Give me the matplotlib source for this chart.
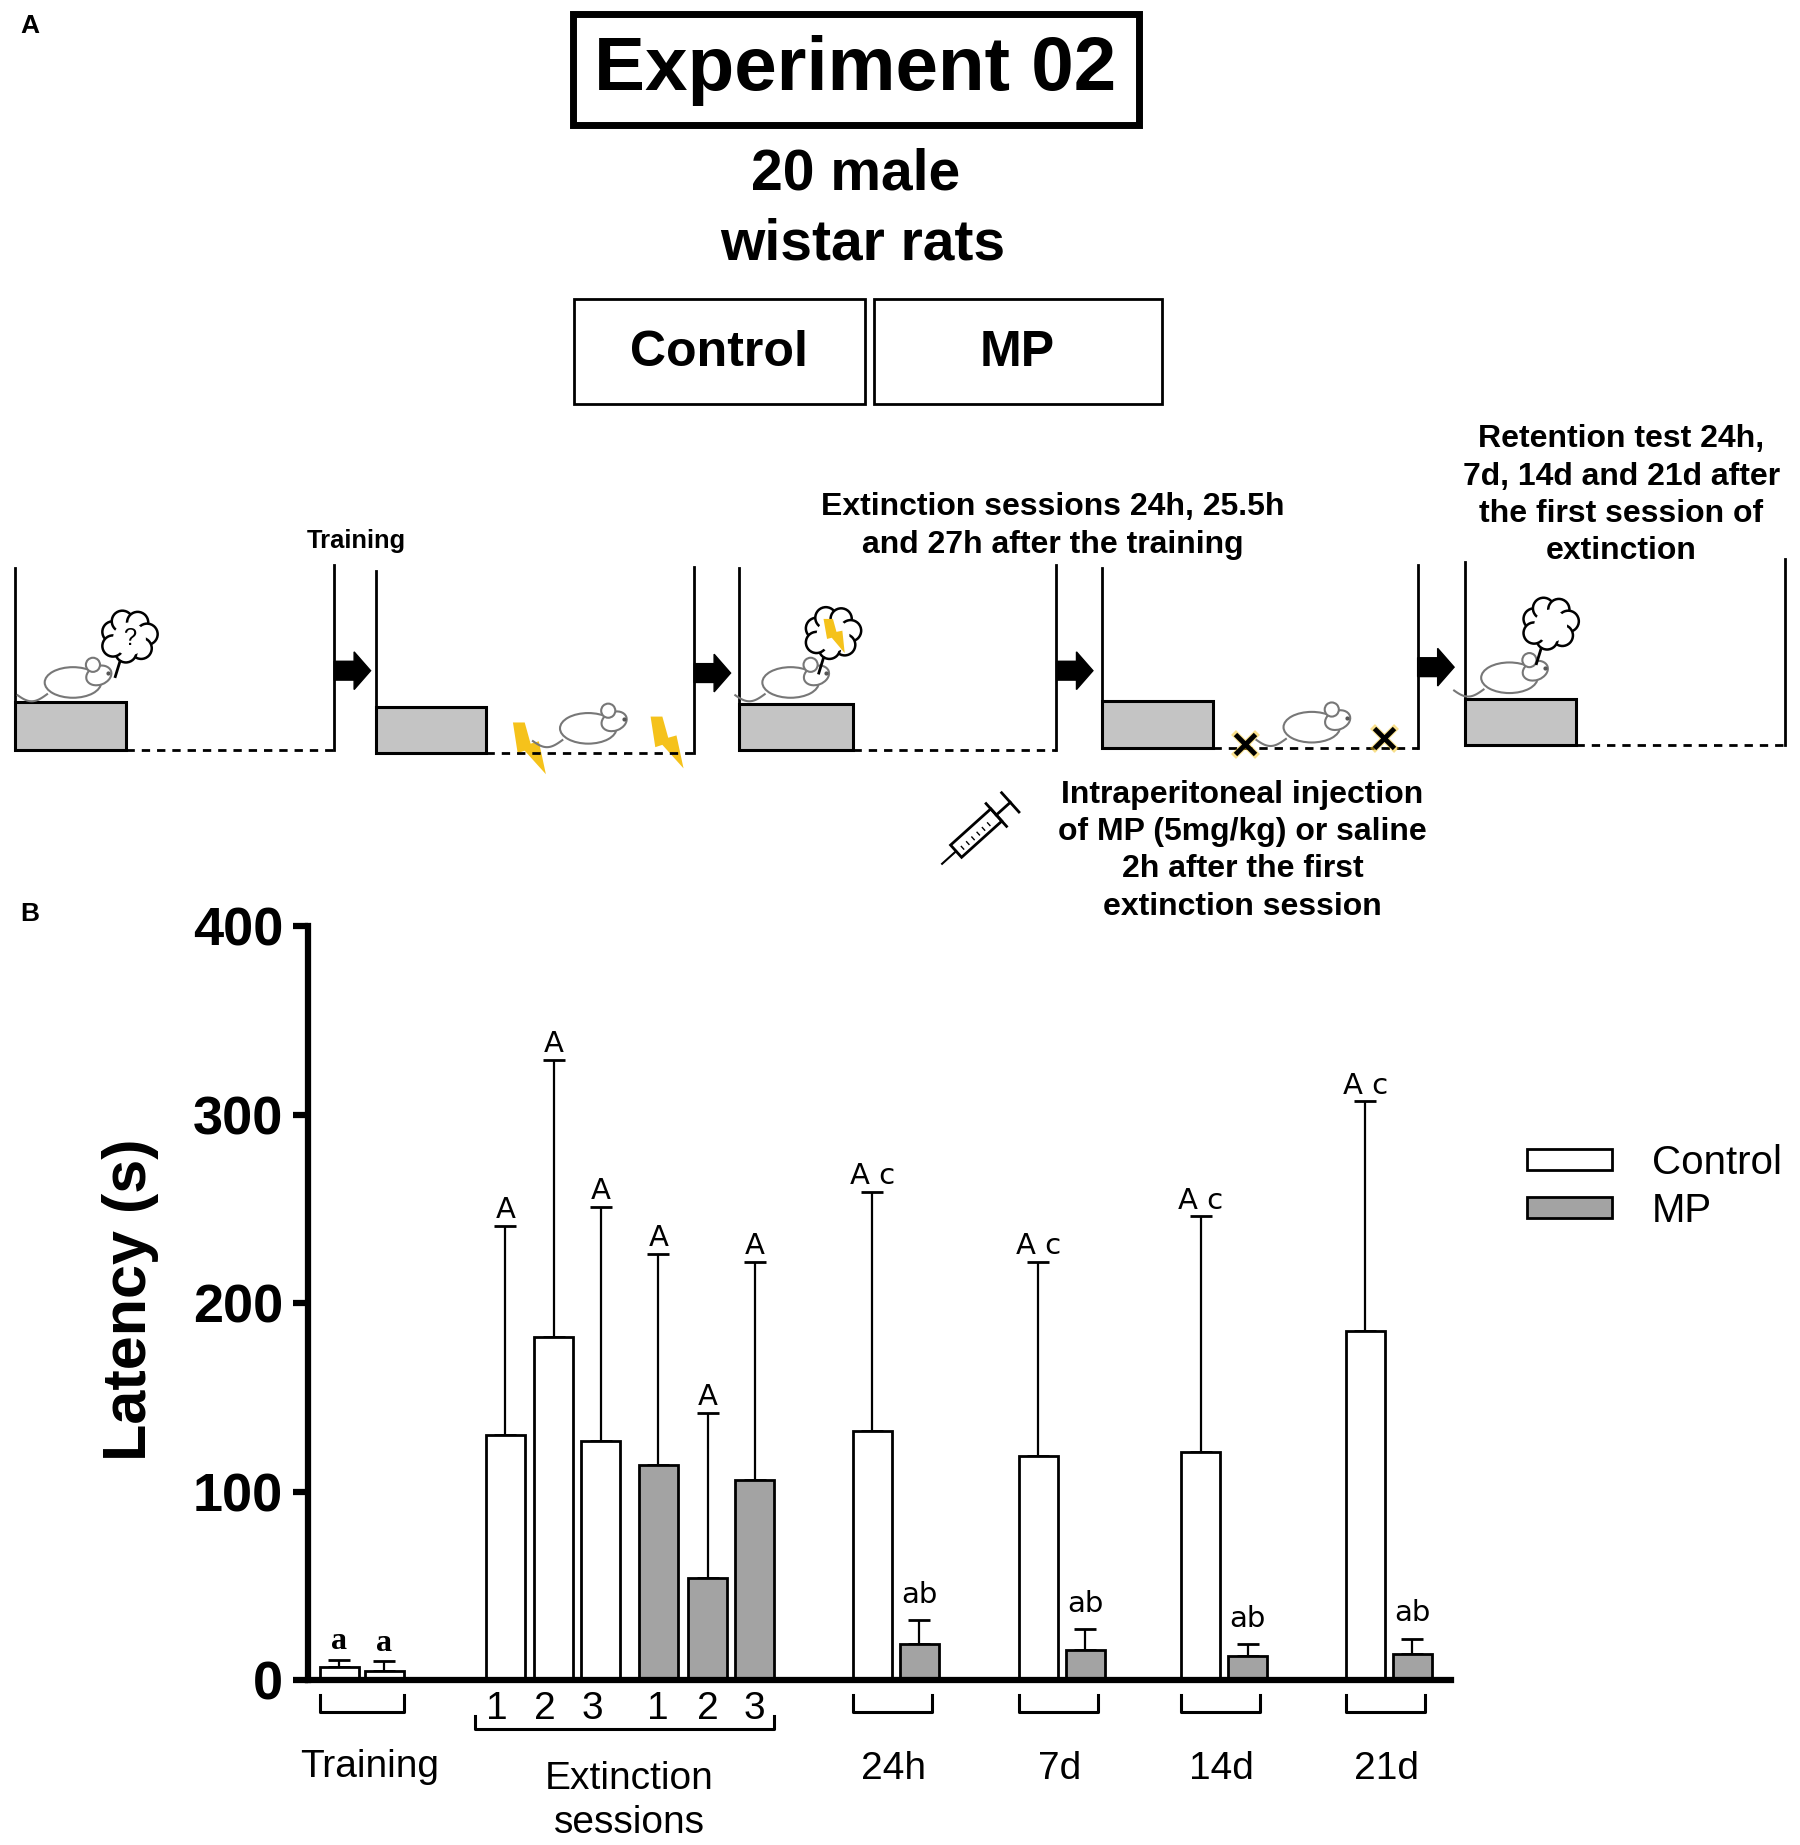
import numpy as np
import matplotlib
matplotlib.use("Agg")
import matplotlib.pyplot as plt
from matplotlib import font_manager
from matplotlib.patches import Rectangle, Polygon, Ellipse, Circle, Patch

# ---- data ----
training_mean = [7, 5]            # control, MP
training_err = [4, 5]
ext_sessions = ["1", "2", "3"]
ext_control_mean = [130, 182, 127]
ext_control_err = [111, 147, 124]
ext_mp_mean = [114, 54, 106]
ext_mp_err = [112, 88, 116]
ret_labels = ["24h", "7d", "14d", "21d"]
ret_control_mean = [132, 119, 121, 185]
ret_control_err = [127, 103, 125, 122]
ret_mp_mean = [19, 16, 13, 14]
ret_mp_err = [13, 11, 6, 8]
training_letters = ["a", "a"]
ext_letters = ["A"] * 6
ret_control_letters = ["A c"] * 4
ret_mp_letters = ["ab"] * 4
yticks = [0, 100, 200, 300, 400]

plt.rcParams['font.family'] = ['Liberation Sans', 'DejaVu Sans']
names = {f.name for f in font_manager.fontManager.ttflist}
if 'Liberation Sans Narrow' in names:
    SCH_FONT, SCH_SIZE = ['Liberation Sans Narrow', 'Liberation Sans'], 27
else:
    SCH_FONT, SCH_SIZE = ['Liberation Sans', 'DejaVu Sans'], 23

W, H = 1530, 1568  # working coordinates for the overlay
fig = plt.figure(figsize=(18, 18.45), dpi=100)
ov = fig.add_axes([0, 0, 1, 1])
ov.set_xlim(0, W)
ov.set_ylim(H, 0)
ov.axis('off')

GRAY_BOX = '#c4c4c4'
BAR_GRAY = '#a3a3a3'
YELLOW = '#f5c21b'

# ---- panel A header ----
ov.text(25, 22, "A", fontsize=19, fontweight='bold', ha='center', va='center')
ov.add_patch(Rectangle((487, 12), 481, 94, fill=False, lw=5, ec='black'))
ov.text(727, 60, "Experiment 02", fontsize=55, fontweight='bold', ha='center', va='center')
ov.text(727, 148, "20 male", fontsize=41, fontweight='bold', ha='center', va='center')
ov.text(733, 208, "wistar rats", fontsize=41, fontweight='bold', ha='center', va='center')
ov.add_patch(Rectangle((488, 254), 247, 89, fill=False, lw=2, ec='black'))
ov.add_patch(Rectangle((743, 254), 245, 89, fill=False, lw=2, ec='black'))
ov.text(611, 300, "Control", fontsize=36, fontweight='bold', ha='center', va='center')
ov.text(865, 300, "MP", fontsize=36, fontweight='bold', ha='center', va='center')


def draw_rat(cx, cy, s=1.0, facing=1):
    # very simple outline of a crouching rat
    body = Ellipse((cx, cy), 48 * s, 26 * s, fc='white', ec='#777777', lw=1.5)
    head = Ellipse((cx + facing * 22 * s, cy - 6 * s), 22 * s, 16 * s, angle=-20 * facing,
                   fc='white', ec='#777777', lw=1.5)
    ear = Circle((cx + facing * 17 * s, cy - 15 * s), 6 * s, fc='white', ec='#777777', lw=1.5)
    for p in (body, head, ear):
        ov.add_patch(p)
    t = np.linspace(0, 1, 20)
    ov.plot(cx - facing * (22 + 25 * t) * s, cy + (10 + 6 * np.sin(t * 3)) * s,
            color='#777777', lw=1.5)
    ov.plot([cx + facing * 30 * s], [cy - 8 * s], marker='o', ms=2, color='#555555')


def draw_bolt(cx, cy, s=1.0):
    pts = np.array([[-12, -22], [-2, -22], [3, -4], [10, -6], [16, 22], [-2, 2], [-8, 4]]) * s
    ov.add_patch(Polygon(pts + [cx, cy], closed=True, fc=YELLOW, ec='none'))


def draw_cloud(cx, cy, content=None):
    offs = [(-14, -6), (-6, -15), (7, -14), (15, -4), (10, 8), (-3, 11), (-14, 6)]
    for dx, dy in offs:
        ov.add_patch(Circle((cx + dx, cy + dy), 9, fc='white', ec='black', lw=1.8))
    ov.add_patch(Circle((cx, cy), 14, fc='white', ec='none', zorder=3))
    ov.plot([cx - 8, cx - 12], [cy + 19, cy + 32], color='black', lw=2)
    if content == '?':
        ov.text(cx, cy, "?", fontsize=17, ha='center', va='center', zorder=4)
    elif content == 'bolt':
        pts = np.array([[-8, -14], [0, -14], [3, -3], [8, -4], [10, 15], [-1, 2], [-5, 3]])
        ov.add_patch(Polygon(pts + [cx, cy], closed=True, fc=YELLOW, ec='none', zorder=4))


def draw_arrow(x0, y):
    pts = [(x0, y - 8), (x0 + 17, y - 8), (x0 + 17, y - 16), (x0 + 31, y),
           (x0 + 17, y + 16), (x0 + 17, y + 8), (x0, y + 8)]
    ov.add_patch(Polygon(pts, closed=True, fc='black', ec='black'))


# chambers: left wall, platform right edge, right wall, top, floor
chambers = [(13, 107, 284, 483, 637, 597), (320, 413, 590, 485, 640, 601),
            (628, 725, 898, 483, 637, 598), (937, 1031, 1205, 483, 636, 596),
            (1245, 1340, 1517, 478, 633, 594)]
for xl, xp, xr, top, floor, ptop in chambers:
    ov.plot([xl, xl], [top, floor], color='black', lw=2)
    ov.plot([xr, xr], [top - 3, floor], color='black', lw=2)
    ov.add_patch(Rectangle((xl, ptop), xp - xl, floor - ptop, fc=GRAY_BOX, ec='black', lw=2.2))
    ov.plot([xp, xr], [floor, floor], color='black', lw=2, ls=(0, (3, 2.5)))

for x0, y in [(284, 570), (590, 572), (898, 570), (1205, 567)]:
    draw_arrow(x0, y)

draw_rat(62, 580)
draw_cloud(110, 543, '?')
draw_bolt(448, 636)
draw_bolt(565, 631)
draw_rat(500, 619)
draw_rat(672, 580)
draw_cloud(708, 540, 'bolt')
draw_rat(1115, 618)
for x, y in [(1058, 632), (1176, 627)]:
    ov.plot(x, y, marker='x', ms=17, mew=5, color=YELLOW, alpha=0.5)
    ov.plot(x, y, marker='x', ms=15, mew=3.5, color='black')
draw_rat(1283, 576)
draw_cloud(1318, 532)

# syringe
ang = np.deg2rad(-42)
u = np.array([np.cos(ang), np.sin(ang)])
n = np.array([-u[1], u[0]])
c = np.array([832, 706])
barrel = [c - 26 * u + 7 * n, c + 20 * u + 7 * n, c + 20 * u - 7 * n, c - 26 * u - 7 * n]
ov.add_patch(Polygon(barrel, closed=True, fc='white', ec='black', lw=2))
for k in range(-20, 12, 6):
    p = c + k * u
    ov.plot([p[0] + 3 * n[0], p[0]], [p[1] + 3 * n[1], p[1]], color='black', lw=1)
fl = c + 20 * u
ov.plot([fl[0] - 13 * n[0], fl[0] + 13 * n[0]], [fl[1] - 13 * n[1], fl[1] + 13 * n[1]], color='black', lw=2)
pe = c + 36 * u
ov.plot([fl[0], pe[0]], [fl[1], pe[1]], color='black', lw=2)
ov.plot([pe[0] - 11 * n[0], pe[0] + 11 * n[0]], [pe[1] - 11 * n[1], pe[1] + 11 * n[1]], color='black', lw=2)
ne = c - 26 * u
nt = c - 42 * u
ov.plot([ne[0], nt[0]], [ne[1], nt[1]], color='black', lw=1.5)

sch = dict(family=SCH_FONT, fontsize=SCH_SIZE, fontweight='bold', ha='center', va='center',
           linespacing=1.32)
ov.text(303, 460, "Training", **dict(sch, fontsize=SCH_SIZE * 0.8))
ov.text(895, 447, "Extinction sessions 24h, 25.5h\nand 27h after the training", **sch)
ov.text(1378, 421, "Retention test 24h,\n7d, 14d and 21d after\nthe first session of\nextinction", **sch)
ov.text(1056, 723, "Intraperitoneal injection\nof MP (5mg/kg) or saline\n2h after the first\nextinction session", **sch)

# ---- panel B ----
ov.text(25, 777, "B", fontsize=19, fontweight='bold', ha='center', va='center')

x_left, x_right, y_top, y_bot = 262, 1233, 787, 1428
ax = fig.add_axes([x_left / W, 1 - y_bot / H, (x_right - x_left) / W, (y_bot - y_top) / H])
ax.set_xlim(0, x_right - x_left)
ax.set_ylim(0, 400)

bw = 33
# layout: left edges of each bar in axis units
train_x = [10, 48]
ext_c_x = [151, 192, 232]
ext_m_x = [281, 323, 363]
ret_c_x = [463, 604, 742, 882]
ret_m_x = [x + 40 for x in ret_c_x]

groups = [
    (train_x, training_mean, training_err, 'white', training_letters),
    (ext_c_x, ext_control_mean, ext_control_err, 'white', ext_letters[:3]),
    (ext_m_x, ext_mp_mean, ext_mp_err, BAR_GRAY, ext_letters[3:]),
    (ret_c_x, ret_control_mean, ret_control_err, 'white', ret_control_letters),
    (ret_m_x, ret_mp_mean, ret_mp_err, BAR_GRAY, ret_mp_letters),
]
for xs, means, errs, col, letters in groups:
    centers = np.array(xs) + bw / 2
    ax.bar(centers, means, width=bw, color=col, edgecolor='black', linewidth=2, zorder=2)
    ax.errorbar(centers, means, yerr=[np.zeros(len(errs)), errs], fmt='none', ecolor='black',
                elinewidth=1.6, capsize=8, capthick=2, zorder=1)
    for cx, m, e, lab in zip(centers, means, errs, letters):
        if lab == 'a':
            ax.text(cx, m + e + 2, lab, fontsize=23, ha='center', va='bottom',
                    fontweight='bold', family=['Liberation Serif'])
        elif lab == 'ab':
            ax.text(cx, m + e + 6, lab, fontsize=21, ha='center', va='bottom',
                    fontweight='medium', family=['DejaVu Sans'])
        else:
            ax.text(cx, m + e + 1, lab, fontsize=21, ha='center', va='bottom',
                    family=['DejaVu Sans'])

for s in ['top', 'right']:
    ax.spines[s].set_visible(False)
ax.spines['left'].set_linewidth(4.5)
ax.spines['bottom'].set_linewidth(4.5)
ax.set_yticks(yticks)
ax.set_xticks([])
ax.tick_params(axis='y', length=11, width=4.5, pad=7, labelsize=39)
for t in ax.get_yticklabels():
    t.set_fontweight('bold')
ax.set_ylabel("Latency (s)", fontsize=44, fontweight='bold')
ax.yaxis.set_label_coords(-0.131, 0.504)


def bracket(x0, x1, y_low, y_high):
    ax.plot([x0, x0, x1, x1], [y_high, y_low, y_low, y_high], color='black', lw=2.2,
            clip_on=False)


bracket(train_x[0], train_x[1] + bw, -17, -8)
for xc, xm in zip(ret_c_x, ret_m_x):
    bracket(xc, xm + bw - 6, -17, -8)
bracket(ext_c_x[0] - 9, ext_m_x[-1] + bw, -26, -19)

for xs, shift in ((ext_c_x, -7), (ext_m_x, 0)):
    for x, lab in zip(xs, ext_sessions):
        ax.text(x + bw / 2 + shift, -15, lab, fontsize=28, ha='center', va='center')

ax.text(52, -46, "Training", fontsize=28, ha='center', va='center')
ax.text(273, -64, "Extinction\nsessions", fontsize=28, ha='center', va='center', linespacing=1.3)
for xc, xm, lab in zip(ret_c_x, ret_m_x, ret_labels):
    ax.text((xc + xm + bw) / 2 - 2, -47, lab, fontsize=28, ha='center', va='center')

handles = [Patch(fc='white', ec='black', lw=2), Patch(fc=BAR_GRAY, ec='black', lw=2)]
fig.legend(handles, ["Control", "MP"], loc='upper left', bbox_to_anchor=(1281 / W, 1 - 955 / H),
           frameon=False, fontsize=29, handlelength=2.1, handleheight=0.45, handletextpad=1.0,
           borderpad=0, labelspacing=0.25)

fig.savefig("out.png", dpi=100)
